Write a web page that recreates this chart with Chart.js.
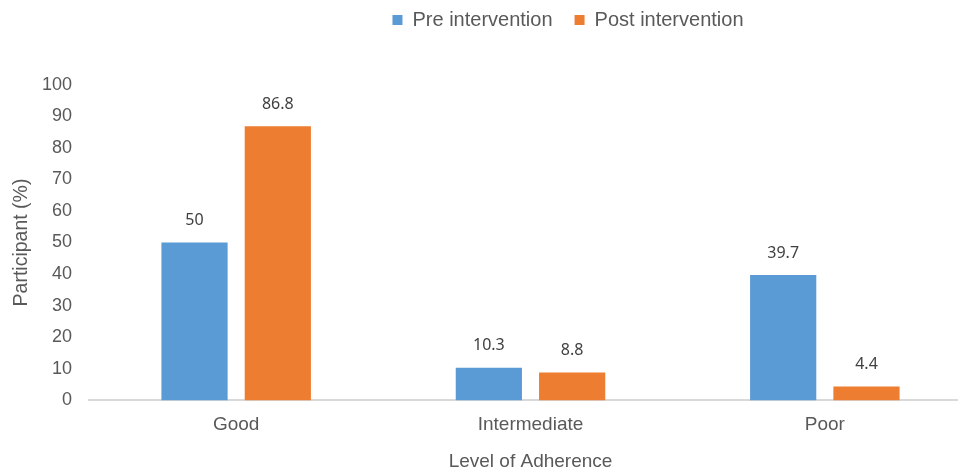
<!DOCTYPE html>
<html>
<head>
<meta charset="utf-8">
<script src="https://cdn.jsdelivr.net/npm/chart.js@4"></script>
<style>
  html, body { margin: 0; padding: 0; background: #fff; overflow: hidden; width: 958px; height: 470px; }
</style>
</head>
<body>
<!-- canvas is a bit wider than the window: the original plot runs past the right edge -->
<canvas id="adherenceChart" width="972" height="470"></canvas>
<script>
// data
const categories = ['Good', 'Intermediate', 'Poor'];
const preValues = [50, 10.3, 39.7];
const postValues = [86.8, 8.8, 4.4];
const seriesNames = ['Pre intervention', 'Post intervention'];

const textColor = '#595959';
const fontFamily = '"Liberation Sans", Arial, sans-serif';

// value labels above each bar
const valueLabels = {
  id: 'valueLabels',
  afterDatasetsDraw(chart) {
    const ctx = chart.ctx;
    ctx.save();
    ctx.font = '16px "Noto Sans", sans-serif';
    ctx.fillStyle = '#404040';
    ctx.textAlign = 'center';
    ctx.textBaseline = 'middle';
    chart.data.datasets.forEach((ds, i) => {
      chart.getDatasetMeta(i).data.forEach((bar, j) => {
        ctx.fillText(String(ds.data[j]), bar.x, bar.y - 22);
      });
    });
    ctx.restore();
  },
};

// legend in the original sits right of centre and well above the plot
const shiftLegend = {
  id: 'shiftLegend',
  afterLayout(chart) {
    const lg = chart.legend;
    lg.left += 82;
    lg.right += 82;
    lg.top -= 44.6;
    lg.bottom -= 44.6;
  },
};

new Chart(document.getElementById('adherenceChart'), {
  type: 'bar',
  data: {
    labels: categories,
    datasets: [
      {
        label: seriesNames[0],
        data: preValues,
        backgroundColor: '#5B9BD5',
        categoryPercentage: 0.566,
        barPercentage: 0.795,
      },
      {
        label: seriesNames[1],
        data: postValues,
        backgroundColor: '#ED7D31',
        categoryPercentage: 0.566,
        barPercentage: 0.795,
      },
    ],
  },
  options: {
    responsive: false,
    animation: false,
    layout: { padding: { left: 0, right: 0, top: 32.6, bottom: -3 } },
    plugins: {
      tooltip: { enabled: false },
      legend: {
        position: 'top',
        labels: {
          boxWidth: 10,
          boxHeight: 10,
          padding: 22,
          color: textColor,
          font: { family: fontFamily, size: 20 },
        },
      },
    },
    scales: {
      x: {
        grid: { display: false },
        border: { display: true, color: '#D9D9D9', width: 2 },
        ticks: {
          color: textColor,
          padding: 5,
          font: { family: fontFamily, size: 19 },
        },
        title: {
          display: true,
          text: 'Level of Adherence',
          color: textColor,
          padding: { top: 9, bottom: 0 },
          font: { family: fontFamily, size: 19 },
        },
      },
      y: {
        min: 0,
        max: 100,
        grid: { display: false, drawTicks: false },
        border: { display: false },
        ticks: {
          stepSize: 10,
          color: textColor,
          padding: 17,
          font: { family: fontFamily, size: 18 },
        },
        title: {
          display: true,
          text: 'Participant (%)',
          color: textColor,
          padding: { top: 10, bottom: 0 },
          font: { family: fontFamily, size: 19.5 },
        },
        afterFit(scale) {
          scale.width = 89;
        },
      },
    },
  },
  plugins: [valueLabels, shiftLegend],
});
</script>
</body>
</html>
